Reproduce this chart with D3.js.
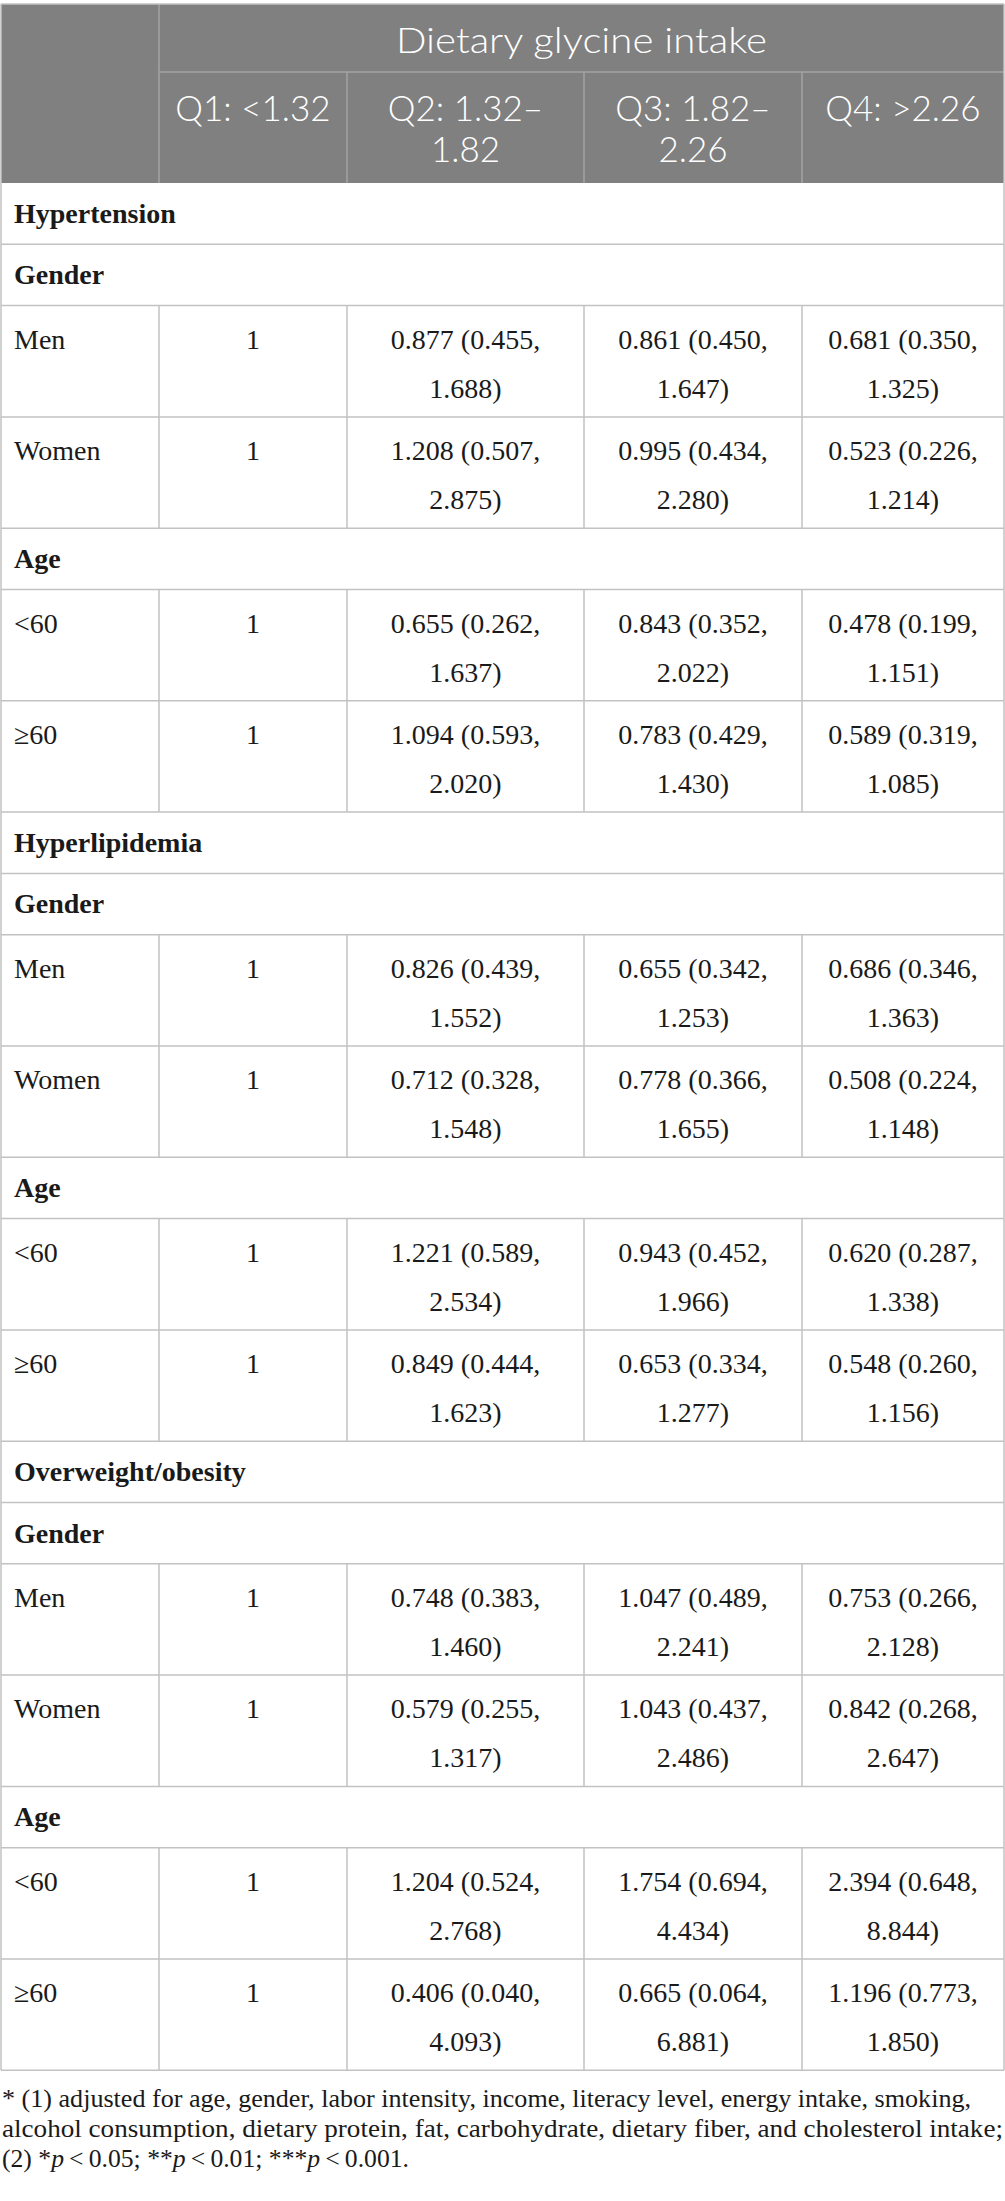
<!DOCTYPE html>
<html>
<head>
<meta charset="utf-8">
<script src="https://cdn.jsdelivr.net/npm/d3@7"></script>
<style>
  body { margin: 0; background: #fff; }
  svg { display: block; }
</style>
</head>
<body>
<svg id="table"></svg>
<script>
// table content
const quartiles = ["Q1: <1.32", "Q2: 1.32\u2013|1.82", "Q3: 1.82\u2013|2.26", "Q4: >2.26"];
const headerTitle = "Dietary glycine intake";
const outcomes = ["Hypertension", "Hyperlipidemia", "Overweight/obesity"];
const groups = ["Gender", "Age"];
const subgroups = { Gender: ["Men", "Women"], Age: ["<60", "\u226560"] };
const reference = "1";

const hypertension = [
  ["0.877 (0.455, 1.688)", "0.861 (0.450, 1.647)", "0.681 (0.350, 1.325)"],
  ["1.208 (0.507, 2.875)", "0.995 (0.434, 2.280)", "0.523 (0.226, 1.214)"],
  ["0.655 (0.262, 1.637)", "0.843 (0.352, 2.022)", "0.478 (0.199, 1.151)"],
  ["1.094 (0.593, 2.020)", "0.783 (0.429, 1.430)", "0.589 (0.319, 1.085)"]
];
const hyperlipidemia = [
  ["0.826 (0.439, 1.552)", "0.655 (0.342, 1.253)", "0.686 (0.346, 1.363)"],
  ["0.712 (0.328, 1.548)", "0.778 (0.366, 1.655)", "0.508 (0.224, 1.148)"],
  ["1.221 (0.589, 2.534)", "0.943 (0.452, 1.966)", "0.620 (0.287, 1.338)"],
  ["0.849 (0.444, 1.623)", "0.653 (0.334, 1.277)", "0.548 (0.260, 1.156)"]
];
const overweight = [
  ["0.748 (0.383, 1.460)", "1.047 (0.489, 2.241)", "0.753 (0.266, 2.128)"],
  ["0.579 (0.255, 1.317)", "1.043 (0.437, 2.486)", "0.842 (0.268, 2.647)"],
  ["1.204 (0.524, 2.768)", "1.754 (0.694, 4.434)", "2.394 (0.648, 8.844)"],
  ["0.406 (0.040, 4.093)", "0.665 (0.064, 6.881)", "1.196 (0.773, 1.850)"]
];
const outcomeValues = [hypertension, hyperlipidemia, overweight];

const footnote = [
  "* (1) adjusted for age, gender, labor intensity, income, literacy level, energy intake, smoking,",
  "alcohol consumption, dietary protein, fat, carbohydrate, dietary fiber, and cholesterol intake;"
];

// layout
const W = 1005, H = 2201;
const colEdges = [1, 159, 347, 584, 802, 1004];
const topY = 4, head1 = 68, head2 = 111;
const sectionH = 61.3, dataH = 111.3;
const lineColor = "#c2c2c2", headBg = "#808080", headLine = "#a3a3a3";
const serif = "'Liberation Serif', 'Times New Roman', serif";
const sans = "Lato, 'Open Sans', sans-serif";
const footWidths = [969, 1001, 407];

const svg = d3.select("#table").attr("width", W).attr("height", H);

// flatten body rows
const rows = [];
outcomes.forEach((o, oi) => {
  rows.push({ type: "section", label: o });
  let k = 0;
  groups.forEach(g => {
    rows.push({ type: "section", label: g });
    subgroups[g].forEach(s => {
      rows.push({ type: "data", label: s, cells: [reference].concat(outcomeValues[oi][k]) });
      k++;
    });
  });
});
let yAcc = topY + head1 + head2;
rows.forEach(r => {
  r.y = yAcc;
  r.h = r.type === "section" ? sectionH : dataH;
  yAcc += r.h;
});
const tableBottom = yAcc;

const colMid = i => (colEdges[i] + colEdges[i + 1]) / 2;

// header
const header = svg.append("g");
header.append("rect")
  .attr("x", colEdges[0]).attr("y", topY)
  .attr("width", colEdges[5] - colEdges[0]).attr("height", head1 + head2)
  .attr("fill", headBg);
header.append("line")
  .attr("x1", colEdges[1]).attr("x2", colEdges[5])
  .attr("y1", topY + head1).attr("y2", topY + head1)
  .attr("stroke", headLine).attr("stroke-width", 1.5);
header.selectAll("line.v")
  .data([1, 2, 3, 4])
  .join("line")
  .attr("class", "v")
  .attr("x1", d => colEdges[d]).attr("x2", d => colEdges[d])
  .attr("y1", d => d === 1 ? topY : topY + head1).attr("y2", topY + head1 + head2)
  .attr("stroke", headLine).attr("stroke-width", 1.5);

header.append("text")
  .attr("x", (colEdges[1] + colEdges[5]) / 2).attr("y", topY + 49)
  .attr("text-anchor", "middle")
  .attr("fill", "#fff")
  .attr("textLength", 371).attr("lengthAdjust", "spacingAndGlyphs")
  .style("font-family", sans).style("font-size", "36px").style("font-weight", 300)
  .text(headerTitle);

header.selectAll("text.q")
  .data(quartiles)
  .join("text")
  .attr("class", "q")
  .attr("text-anchor", "middle")
  .attr("fill", "#fff")
  .style("font-family", sans).style("font-size", "35px").style("font-weight", 300)
  .each(function(d, i) {
    d3.select(this).selectAll("tspan")
      .data(d.split("|"))
      .join("tspan")
      .attr("x", colMid(i + 1))
      .attr("y", (t, j) => topY + 117 + j * 41)
      .text(t => t);
  });

// body
const body = svg.append("g");
body.selectAll("line.h")
  .data(rows)
  .join("line")
  .attr("class", "h")
  .attr("x1", colEdges[0]).attr("x2", colEdges[5])
  .attr("y1", d => d.y + d.h).attr("y2", d => d.y + d.h)
  .attr("stroke", lineColor).attr("stroke-width", 1.5);

// outer sides
body.selectAll("line.side")
  .data([colEdges[0], colEdges[5]])
  .join("line")
  .attr("class", "side")
  .attr("x1", d => d).attr("x2", d => d)
  .attr("y1", topY).attr("y2", tableBottom)
  .attr("stroke", lineColor).attr("stroke-width", 1.5);
svg.append("line")
  .attr("x1", colEdges[0]).attr("x2", colEdges[5])
  .attr("y1", topY).attr("y2", topY)
  .attr("stroke", lineColor).attr("stroke-width", 1.5);

const dataRows = rows.filter(r => r.type === "data");
body.selectAll("g.vl")
  .data(dataRows)
  .join("g")
  .attr("class", "vl")
  .selectAll("line")
  .data(r => [1, 2, 3, 4].map(c => ({ c, r })))
  .join("line")
  .attr("x1", d => colEdges[d.c]).attr("x2", d => colEdges[d.c])
  .attr("y1", d => d.r.y).attr("y2", d => d.r.y + d.r.h)
  .attr("stroke", lineColor).attr("stroke-width", 1.5);

// section labels
body.selectAll("text.sec")
  .data(rows.filter(r => r.type === "section"))
  .join("text")
  .attr("class", "sec")
  .attr("x", 14)
  .attr("y", d => d.y + 40)
  .attr("fill", "#1a1a1a")
  .style("font-family", serif).style("font-size", "28px").style("font-weight", "bold")
  .text(d => d.label);

// data row labels
body.selectAll("text.lab")
  .data(dataRows)
  .join("text")
  .attr("class", "lab")
  .attr("x", 14)
  .attr("y", d => d.y + 43)
  .attr("fill", "#1a1a1a")
  .style("font-family", serif).style("font-size", "28px")
  .text(d => d.label);

// data cells
dataRows.forEach(r => {
  const g = body.append("g");
  r.cells.forEach((c, i) => {
    const parts = c.includes(", ") ? [c.split(", ")[0] + ",", c.split(", ")[1]] : [c];
    const t = g.append("text")
      .attr("text-anchor", "middle")
      .attr("fill", "#1a1a1a")
      .style("font-family", serif).style("font-size", "28px");
    t.selectAll("tspan")
      .data(parts)
      .join("tspan")
      .attr("x", colMid(i + 1))
      .attr("y", (p, j) => r.y + 43 + j * 49)
      .text(p => p);
  });
});

// footnote
const foot = svg.append("g")
  .style("font-family", serif).style("font-size", "25px").attr("fill", "#1a1a1a");
foot.selectAll("text.fn")
  .data(footnote)
  .join("text")
  .attr("class", "fn")
  .attr("x", 2)
  .attr("y", (d, i) => tableBottom + 37 + i * 30)
  .attr("textLength", (d, i) => footWidths[i])
  .attr("lengthAdjust", "spacingAndGlyphs")
  .text(d => d);

const p3 = foot.append("text").attr("x", 2).attr("y", tableBottom + 97)
  .attr("textLength", footWidths[2]).attr("lengthAdjust", "spacingAndGlyphs");
const pieces = [
  ["(2) *", false], ["p", true], ["\u2009<\u20090.05; **", false], ["p", true],
  ["\u2009<\u20090.01; ***", false], ["p", true], ["\u2009<\u20090.001.", false]
];
p3.selectAll("tspan")
  .data(pieces)
  .join("tspan")
  .style("font-style", d => d[1] ? "italic" : "normal")
  .text(d => d[0]);
</script>
</body>
</html>
